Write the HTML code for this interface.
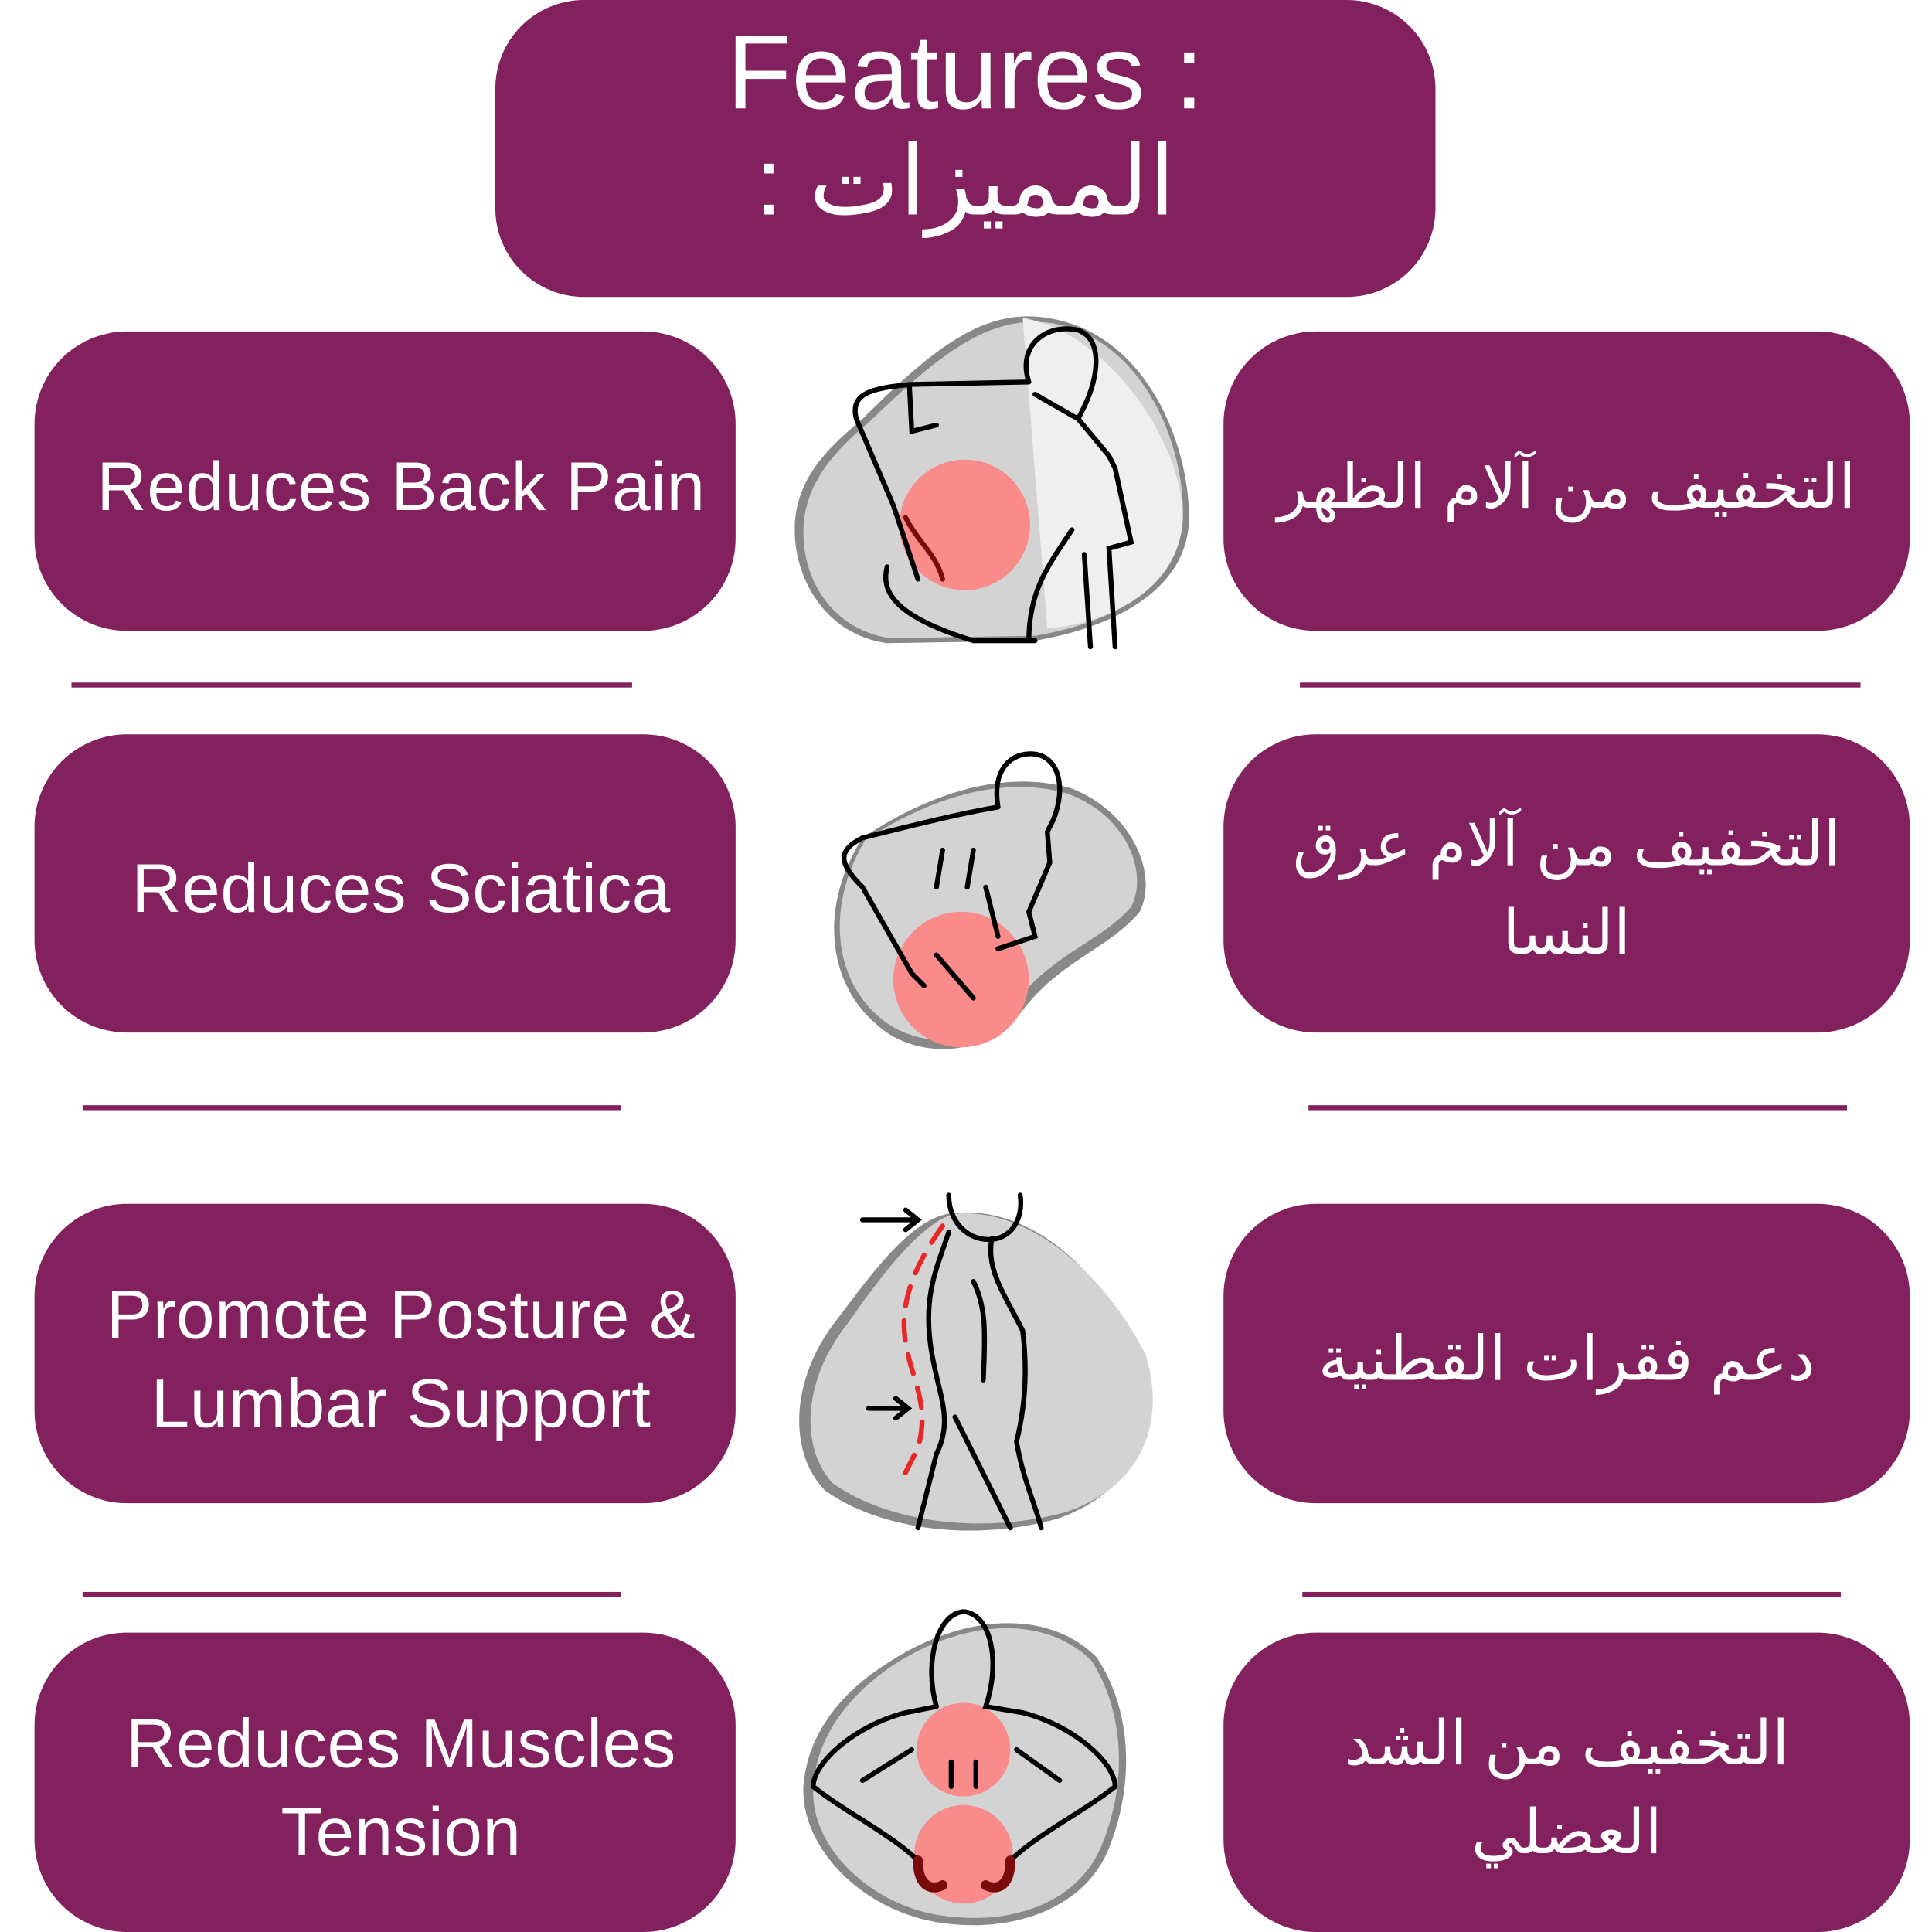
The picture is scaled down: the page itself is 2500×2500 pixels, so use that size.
<!DOCTYPE html>
<html><head><meta charset="utf-8"><style>
html,body{margin:0;padding:0;background:#fff;width:2500px;height:2500px;overflow:hidden}
#w{position:absolute;left:0;top:0;width:1568px;height:1568px;transform:scale(1.59439);transform-origin:0 0}
.b{position:absolute;background:#82215e;color:#fff;display:flex;align-items:center;justify-content:center;text-align:center;font-family:"Liberation Sans","DejaVu Sans",sans-serif;font-size:50px;line-height:72px;border-radius:75px;box-sizing:border-box}
.l{left:28px;width:569px;font-size:56px;padding-left:26px;padding-top:8px;letter-spacing:0.3px}
.r{left:993px;width:557px;direction:rtl;padding-top:8px}
.ln{position:absolute;height:4px;background:#82215e}
svg{position:absolute;left:0;top:0}
</style></head><body><div id="w">
<div class="b" style="left:402px;top:0;width:763px;height:241px;flex-direction:column;font-size:86px;line-height:88px;border-radius:72px;padding-bottom:36px">
<div>Features :</div><div style="direction:rtl;font-size:78px">المميزات :</div></div>

<div class="b l" style="top:269px;height:243px">Reduces Back Pain</div>
<div class="b l" style="top:596px;height:242px">Reduces Sciatica</div>
<div class="b l" style="top:977px;height:243px">Promote Posture &amp;<br>Lumbar Support</div>
<div class="b l" style="top:1325px;height:243px">Reduces Muscles<br>Tension</div>

<div class="b r" style="top:269px;height:243px">التخفيف من آلام الظهر</div>
<div class="b r" style="top:596px;height:242px">التخفيف من آلام عرق<br>النسا</div>
<div class="b r" style="top:977px;height:243px">دعم فقرات القطنية</div>
<div class="b r" style="top:1325px;height:243px">التخفيف من الشد<br>العضلي</div>

<div class="ln" style="left:58px;width:455px;top:554px"></div>
<div class="ln" style="left:67px;width:437px;top:897px"></div>
<div class="ln" style="left:67px;width:437px;top:1292px"></div>
<div class="ln" style="left:1055px;width:455px;top:554px"></div>
<div class="ln" style="left:1062px;width:437px;top:897px"></div>
<div class="ln" style="left:1057px;width:437px;top:1292px"></div>

<svg width="1568" height="1568" viewBox="0 0 1568 1568" fill="none" stroke="#000" stroke-width="4" stroke-linecap="round">
<!-- 1 -->
<path d="M700 340 C760 280 800 250 850 258 C930 270 965 360 965 420 C965 480 900 510 840 520 L720 522 C670 515 645 470 645 430 C645 390 670 365 700 340Z" fill="#888" stroke="none"/>
<path d="M706 342 C766 284 804 256 852 262 C928 274 962 362 960 420 C958 478 900 506 840 516 L722 518 C674 510 652 470 652 432 C652 394 676 367 706 342Z" fill="#d3d3d3" stroke="none"/>
<path d="M830 258 C900 270 960 360 960 420 C958 478 900 506 850 510 L830 258Z" fill="#efefef" stroke="none"/>
<circle cx="783" cy="426" r="53" fill="#f98b8b" stroke="none"/>
<path d="M835 310 C825 280 850 262 875 268 C895 275 892 305 880 330 L875 340 L900 370 L905 380 L918 440 L900 445 L905 525 M835 310 L740 312 C705 315 690 320 695 340 L725 410 L735 440 L745 470 M738 312 L740 350 L760 345 M875 340 L840 320 M870 430 C850 460 835 480 835 520 M720 460 C715 480 725 500 790 520 L840 520 M880 450 L885 525"/>
<path d="M735 420 C745 440 760 450 765 470" stroke="#7a0a0a"/>
<!-- 2 -->
<path d="M700 680 C760 640 820 625 870 640 C920 660 940 710 925 740 C900 770 860 780 830 820 C800 860 740 860 710 830 C675 800 662 740 700 680Z" fill="#888" stroke="none"/>
<path d="M702 682 C760 644 818 630 866 644 C916 662 932 710 918 736 C894 764 854 774 824 814 C796 852 742 852 712 824 C680 796 668 740 702 682Z" fill="#d3d3d3" stroke="none"/>
<circle cx="780" cy="795" r="55" fill="#f98b8b" stroke="none"/>
<path d="M810 655 C805 625 820 610 840 612 C860 615 865 640 855 665 L850 675 L852 700 L835 740 L840 760 L810 770 M810 655 C780 660 740 670 700 680 C680 690 680 700 700 720 L740 790 L750 800 M800 720 L810 760 M765 690 L760 720 M790 690 L785 720 M760 775 L790 810"/>
<!-- 3 -->
<path d="M770 985 C840 975 900 1040 925 1100 C945 1160 920 1210 860 1232 C800 1250 720 1245 670 1210 C640 1180 640 1120 680 1070 C710 1030 740 990 770 985Z" fill="#888" stroke="none"/>
<path d="M775 985 C840 980 900 1040 930 1100 C948 1160 922 1210 862 1228 C802 1244 725 1238 676 1204 C650 1176 650 1122 688 1074 C716 1034 748 992 775 985Z" fill="#d3d3d3" stroke="none"/>
<path d="M770 970 C770 995 790 1010 810 1005 C825 1000 830 985 828 970 M770 1000 C760 1030 750 1050 755 1090 C760 1130 775 1150 760 1180 L745 1240 M790 1040 C800 1060 800 1080 798 1120 M805 1005 C800 1030 815 1050 830 1080 C835 1120 830 1150 825 1170 C830 1200 840 1220 845 1240 M775 1150 L820 1240 M700 990 L745 990 M735 982 L745 990 L735 998 M705 1143 L735 1143 M727 1135 L737 1143 L727 1151"/>
<path d="M765 995 C740 1030 730 1060 735 1090 C740 1120 755 1140 745 1175 L730 1205" stroke="#e82828" stroke-dasharray="16 12"/>
<!-- 4 -->
<path d="M720 1350 C780 1310 850 1305 890 1345 C920 1390 920 1450 900 1500 C880 1550 820 1570 760 1560 C700 1550 650 1500 652 1450 C655 1410 680 1375 720 1350Z" fill="#888" stroke="none"/>
<path d="M724 1352 C782 1314 848 1310 886 1348 C914 1392 914 1450 894 1498 C874 1546 818 1564 760 1554 C704 1544 658 1498 660 1452 C662 1412 686 1378 724 1352Z" fill="#d3d3d3" stroke="none"/>
<circle cx="782" cy="1420" r="38" fill="#f98b8b" stroke="none"/>
<circle cx="782" cy="1505" r="40" fill="#f98b8b" stroke="none"/>
<path d="M760 1385 C750 1350 760 1310 782 1308 C805 1310 812 1350 800 1385 L830 1390 C870 1400 905 1430 905 1450 C880 1470 840 1490 820 1510 M760 1385 L735 1390 C695 1400 660 1430 660 1450 C685 1470 725 1490 745 1510 M700 1445 L740 1420 M860 1445 L825 1420 M772 1430 L772 1450 M792 1430 L792 1450"/>
<path d="M745 1510 C745 1530 755 1535 765 1530 M820 1510 C820 1530 810 1535 800 1530" stroke="#7a0a0a" stroke-width="8"/>
</svg>
</div></body></html>
